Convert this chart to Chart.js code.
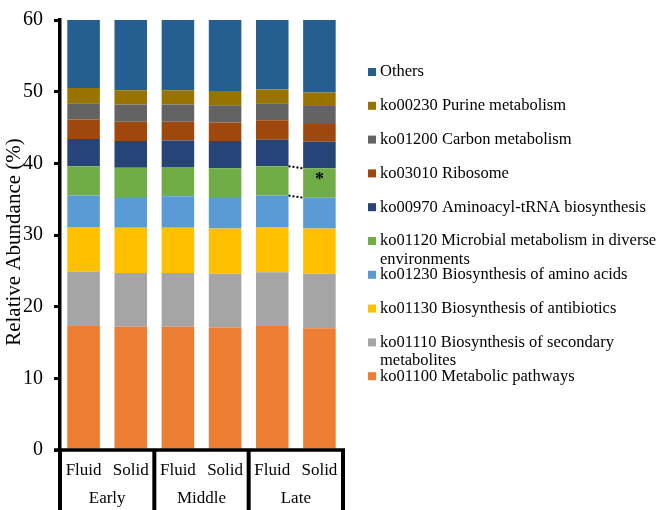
<!DOCTYPE html>
<html>
<head>
<meta charset="utf-8">
<script src="https://cdn.jsdelivr.net/npm/chart.js@4/dist/chart.umd.min.js"></script>
<style>
html,body{margin:0;padding:0;background:#fff;}
#wrap{width:660px;height:510px;position:relative;}
</style>
</head>
<body>
<div id="wrap"><canvas id="c" width="660" height="510"></canvas></div>
<script>
// ---- data ----
const categories = ['Fluid','Solid','Fluid','Solid','Fluid','Solid'];
const groups = ['Early','Middle','Late'];
const yTicks = [0,10,20,30,40,50,60];

// series, bottom to top of the stack
const metabolic   = [17.3,17.2,17.2,17.1,17.3,17.0];
const secondary   = [7.6,7.5,7.5,7.5,7.5,7.6];
const antibiotics = [6.2,6.3,6.3,6.3,6.3,6.3];
const aminoAcids  = [4.4,4.3,4.4,4.4,4.4,4.3];
const microbial   = [4.1,4.1,4.1,4.0,4.1,4.1];
const aminoacyl   = [3.8,3.7,3.7,3.8,3.7,3.7];
const ribosome    = [2.7,2.7,2.6,2.6,2.7,2.5];
const carbon      = [2.3,2.4,2.4,2.4,2.4,2.5];
const purine      = [2.1,2.0,2.0,2.0,1.9,1.9];
const others      = [9.5,9.8,9.8,9.9,9.7,10.1];

const seriesNames = [
  'ko01100 Metabolic pathways',
  'ko01110 Biosynthesis of secondary metabolites',
  'ko01130 Biosynthesis of antibiotics',
  'ko01230 Biosynthesis of amino acids',
  'ko01120 Microbial metabolism in diverse environments',
  'ko00970 Aminoacyl-tRNA biosynthesis',
  'ko03010 Ribosome',
  'ko01200 Carbon metabolism',
  'ko00230 Purine metabolism',
  'Others'
];
const seriesValues = [metabolic, secondary, antibiotics, aminoAcids, microbial, aminoacyl, ribosome, carbon, purine, others];
const seriesColors = ['#ED7D31','#A5A5A5','#FFC000','#5B9BD5','#70AD47','#264478','#9E480E','#636363','#997300','#255E91'];

// significant difference marker: between Late Fluid (4) and Late Solid (5) for Microbial series (4)
const sigSeries = 4, sigFrom = 4, sigTo = 5;

const FONT = "'Liberation Serif','Times New Roman',serif";

const datasets = seriesNames.map((n,i)=>({
  label: n,
  data: seriesValues[i],
  backgroundColor: seriesColors[i],
  borderWidth: 0,
  barPercentage: 0.69,
  categoryPercentage: 1.0
}));

const extras = {
  id: 'extras',
  afterDraw(chart){
    const ctx = chart.ctx;
    const a = chart.chartArea;
    ctx.save();
    ctx.fillStyle = '#000';
    ctx.strokeStyle = '#000';
    // x axis line
    ctx.lineWidth = 3.5;
    ctx.beginPath();
    ctx.moveTo(a.left - 6, a.bottom);
    ctx.lineTo(a.right + 2, a.bottom);
    ctx.stroke();
    // group separators
    ctx.lineWidth = 4;
    const gw = (a.right - a.left) / groups.length;
    for (let g = 0; g <= groups.length; g++) {
      const x = a.left + g * gw;
      ctx.beginPath();
      ctx.moveTo(x, a.bottom);
      ctx.lineTo(x, 510);
      ctx.stroke();
    }
    // group labels
    ctx.font = '17px ' + FONT;
    ctx.textAlign = 'center';
    ctx.textBaseline = 'middle';
    groups.forEach((g,i)=>{
      ctx.fillText(g, a.left + (i + 0.5) * gw, 499);
    });
    // y title
    ctx.save();
    ctx.translate(14, 242);
    ctx.rotate(-Math.PI/2);
    ctx.font = '21px ' + FONT;
    ctx.textAlign = 'center';
    ctx.textBaseline = 'middle';
    ctx.fillText('Relative Abundance (%)', 0, 0);
    ctx.restore();
    // dotted connectors + asterisk
    const meta = chart.getDatasetMeta(sigSeries);
    const b1 = meta.data[sigFrom], b2 = meta.data[sigTo];
    const p1 = b1.getProps(['x','y','base','width'], true);
    const p2 = b2.getProps(['x','y','base','width'], true);
    ctx.setLineDash([2,2]);
    ctx.lineWidth = 2;
    ctx.beginPath();
    ctx.moveTo(p1.x + p1.width/2, p1.y);
    ctx.lineTo(p2.x - p2.width/2, p2.y);
    ctx.moveTo(p1.x + p1.width/2, p1.base);
    ctx.lineTo(p2.x - p2.width/2, p2.base);
    ctx.stroke();
    ctx.setLineDash([]);
    ctx.font = 'bold 18px ' + FONT;
    ctx.textAlign = 'center';
    ctx.textBaseline = 'middle';
    ctx.fillText('*', p2.x, (p2.y + p2.base)/2 - 3);
    // legend (top = last series)
    ctx.font = '16.5px ' + FONT;
    ctx.textAlign = 'left';
    ctx.textBaseline = 'middle';
    const maxW = 660 - 380 - 2;
    for (let k = 0; k < seriesNames.length; k++) {
      const i = seriesNames.length - 1 - k;
      const y = 72 + k * 33.8;
      ctx.fillStyle = seriesColors[i];
      ctx.fillRect(368, y - 4, 8, 8);
      ctx.fillStyle = '#000';
      const words = seriesNames[i].split(' ');
      const lines = [];
      let cur = '';
      words.forEach(w=>{
        const t = cur ? cur + ' ' + w : w;
        if (ctx.measureText(t).width > maxW && cur) { lines.push(cur); cur = w; }
        else cur = t;
      });
      lines.push(cur);
      lines.forEach((l,j)=>ctx.fillText(l, 380, y + j*18.5));
    }
    ctx.restore();
  }
};

new Chart(document.getElementById('c'), {
  type: 'bar',
  data: { labels: categories, datasets },
  options: {
    responsive: false,
    animation: false,
    devicePixelRatio: 1,
    layout: { padding: { top: 9, right: 317, left: 0, bottom: 0 } },
    plugins: { legend: { display: false }, tooltip: { enabled: false } },
    scales: {
      x: {
        stacked: true,
        grid: { display: false, drawTicks: false },
        border: { display: false },
        ticks: { color: '#000', font: { family: FONT, size: 17 }, padding: 10, maxRotation: 0, autoSkip: false },
        afterFit(s){ s.height = 60; }
      },
      y: {
        stacked: true,
        min: 0, max: 60,
        afterBuildTicks(s){ s.ticks = yTicks.map(v=>({value:v})); },
        grid: { display: true, drawOnChartArea: false, drawTicks: true, tickLength: 6, lineWidth: 3, color: '#000' },
        border: { display: true, width: 3.5, color: '#000' },
        ticks: { color: '#000', font: { family: FONT, size: 20, lineHeight: 0.9 }, padding: 11 },
        afterFit(s){ s.width = 60; }
      }
    }
  },
  plugins: [extras]
});
</script>
</body>
</html>
